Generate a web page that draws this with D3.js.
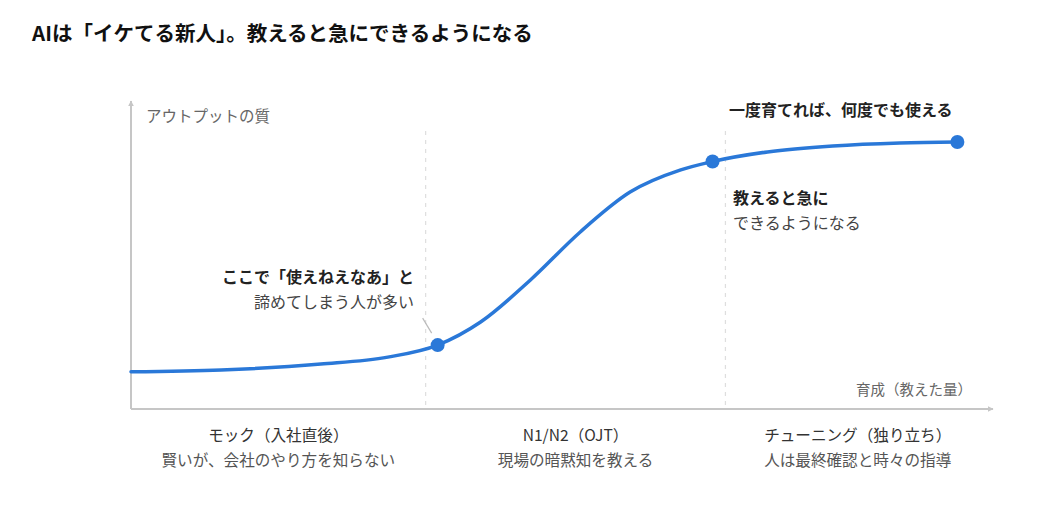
<!DOCTYPE html>
<html>
<head>
<meta charset="utf-8">
<script src="https://cdn.jsdelivr.net/npm/d3@7"></script>
<style>
  body { margin: 0; background: #fff; }
  svg { font-family: "Noto Sans CJK JP", "Noto Sans", sans-serif; }
</style>
</head>
<body>
<div id="chart"></div>
<script>
const width = 1040;
const height = 518;

// 育成量 (0-100) と アウトプットの質 (0-100)
const growth = [0, 10.5, 22.1, 29.9, 35.7, 40.7, 46.5, 52.3, 58.1, 64, 67.7, 74.1, 81.7, 89.5, 96.2];
const quality = [12.4, 13, 15, 17.3, 21.3, 29, 43, 59, 72.3, 79.7, 82.5, 85.7, 87.7, 88.7, 89];
const dotIndex = [4, 10, 14];

const phaseBounds = [0, 34.3, 69.2, 100];
const phaseTitles = ["モック（入社直後）", "N1/N2（OJT）", "チューニング（独り立ち）"];
const phaseNotes = ["賢いが、会社のやり方を知らない", "現場の暗黙知を教える", "人は最終確認と時々の指導"];

const points = growth.map((g, i) => ({ x: g, y: quality[i] }));

const x = d3.scaleLinear().domain([0, 100]).range([131, 990]);
const y = d3.scaleLinear().domain([0, 100]).range([409, 109]);

const svg = d3.select("#chart").append("svg")
  .attr("width", width)
  .attr("height", height);

const defs = svg.append("defs");
defs.append("marker")
    .attr("id", "arrow")
    .attr("viewBox", "0 0 10 10")
    .attr("refX", 9).attr("refY", 5)
    .attr("markerWidth", 6).attr("markerHeight", 6)
    .attr("markerUnits", "userSpaceOnUse")
    .attr("orient", "auto")
  .append("path")
    .attr("d", "M0,0 L10,5 L0,10 Z")
    .attr("fill", "#c6c6c6");

// title
svg.append("text")
    .attr("x", 32).attr("y", 41)
    .attr("font-size", 20.5)
    .attr("font-weight", 700)
    .attr("fill", "#111")
    .text("AIは「イケてる新人」。教えると急にできるようになる");

// dividers
svg.append("g")
  .selectAll("line")
  .data(phaseBounds.slice(1, -1))
  .enter().append("line")
    .attr("x1", d => x(d)).attr("x2", d => x(d))
    .attr("y1", 131).attr("y2", 409)
    .attr("stroke", "#dedede")
    .attr("stroke-width", 1.2)
    .attr("stroke-dasharray", "4,5");

// axes
svg.append("line")
    .attr("x1", x(0)).attr("y1", y(0))
    .attr("x2", 993).attr("y2", y(0))
    .attr("stroke", "#c6c6c6").attr("stroke-width", 2)
    .attr("marker-end", "url(#arrow)");
svg.append("line")
    .attr("x1", x(0)).attr("y1", y(0))
    .attr("x2", x(0)).attr("y2", 101)
    .attr("stroke", "#c6c6c6").attr("stroke-width", 2)
    .attr("marker-end", "url(#arrow)");

svg.append("text")
    .attr("x", 146).attr("y", 122)
    .attr("font-size", 15.5)
    .attr("fill", "#666")
    .text("アウトプットの質");

svg.append("text")
    .attr("x", 972).attr("y", 395)
    .attr("text-anchor", "end")
    .attr("font-size", 14.5)
    .attr("fill", "#666")
    .text("育成（教えた量）");

// curve
const line = d3.line()
    .x(d => x(d.x))
    .y(d => y(d.y))
    .curve(d3.curveMonotoneX);

svg.append("path")
    .datum(points)
    .attr("d", line)
    .attr("fill", "none")
    .attr("stroke", "#2a78d8")
    .attr("stroke-width", 3.5)
    .attr("stroke-linecap", "round");

svg.append("g")
  .selectAll("circle")
  .data(dotIndex.map(i => points[i]))
  .enter().append("circle")
    .attr("cx", d => x(d.x))
    .attr("cy", d => y(d.y))
    .attr("r", 7)
    .attr("fill", "#2a78d8");

// phase labels
const phase = svg.append("g")
  .selectAll("g")
  .data(phaseTitles)
  .enter().append("g")
    .attr("transform", (d, i) => `translate(${(x(phaseBounds[i]) + x(phaseBounds[i + 1])) / 2},0)`);

phase.append("text")
    .attr("y", 441)
    .attr("text-anchor", "middle")
    .attr("font-size", 15.6)
    .attr("fill", "#333")
    .text(d => d);

phase.append("text")
    .attr("y", 466)
    .attr("text-anchor", "middle")
    .attr("font-size", 15.6)
    .attr("fill", "#555")
    .text((d, i) => phaseNotes[i]);

// annotations
const p0 = points[dotIndex[0]];
svg.append("line")
    .attr("x1", x(p0.x) - 15).attr("y1", y(p0.y) - 27)
    .attr("x2", x(p0.x) - 6).attr("y2", y(p0.y) - 12)
    .attr("stroke", "#bbb").attr("stroke-width", 1.2);

svg.append("text")
    .attr("x", 414).attr("y", 283)
    .attr("text-anchor", "end")
    .attr("font-size", 16)
    .attr("font-weight", 700)
    .attr("fill", "#222")
    .text("ここで「使えねえなあ」と");
svg.append("text")
    .attr("x", 414).attr("y", 308)
    .attr("text-anchor", "end")
    .attr("font-size", 16)
    .attr("fill", "#444")
    .text("諦めてしまう人が多い");

svg.append("text")
    .attr("x", 729).attr("y", 116)
    .attr("font-size", 16)
    .attr("font-weight", 700)
    .attr("fill", "#222")
    .text("一度育てれば、何度でも使える");

svg.append("text")
    .attr("x", 733).attr("y", 204)
    .attr("font-size", 16)
    .attr("font-weight", 700)
    .attr("fill", "#222")
    .text("教えると急に");
svg.append("text")
    .attr("x", 733).attr("y", 229)
    .attr("font-size", 16)
    .attr("fill", "#444")
    .text("できるようになる");
</script>
</body>
</html>
